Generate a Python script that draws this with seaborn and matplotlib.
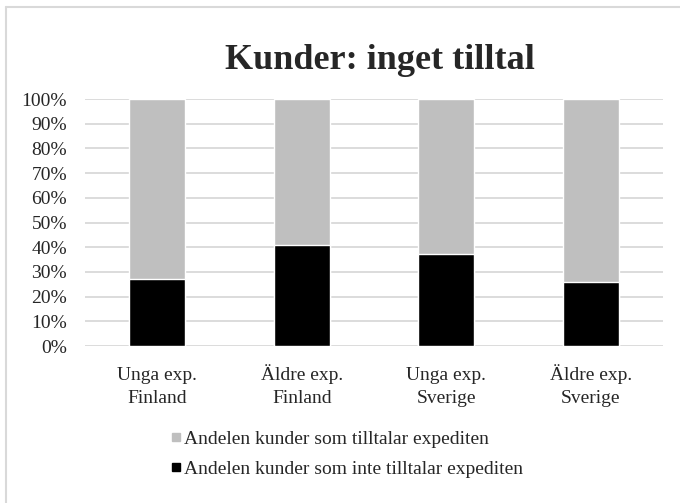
import pandas as pd
import matplotlib.pyplot as plt
import seaborn as sns
from matplotlib.lines import Line2D

# data
groups = ['Unga exp.\nFinland', 'Äldre exp.\nFinland', 'Unga exp.\nSverige', 'Äldre exp.\nSverige']
inte_tilltalar = [27.2, 40.9, 37.1, 26.1]
tilltalar = [72.8, 59.1, 62.9, 73.9]
labels = ['Andelen kunder som tilltalar expediten',
          'Andelen kunder som inte tilltalar expediten']

df = pd.DataFrame({'grupp': groups, 'inte': inte_tilltalar, 'tilltalar': tilltalar})
df['total'] = df['inte'] + df['tilltalar']

sns.set_style('white')
plt.rcParams['font.family'] = ['Liberation Serif', 'DejaVu Serif']

fig = plt.figure(figsize=(6.8, 5.03), dpi=100)
ax = fig.add_axes([0.125, 0.312, 0.85, 0.491])

# stacked: grey total behind, black share in front
sns.barplot(data=df, x='grupp', y='total', color='#bfbfbf', width=0.39, ax=ax, zorder=2)
sns.barplot(data=df, x='grupp', y='inte', color='black', width=0.39, ax=ax, zorder=3)

ax.set_xlim(-0.5, 3.5)
ax.set_ylim(0, 100)
ax.set_yticks(range(0, 101, 10))
ax.set_yticklabels([f'{v}%' for v in range(0, 101, 10)], fontsize=14)
ax.tick_params(axis='y', pad=13, length=0)
ax.tick_params(axis='x', labelsize=14, pad=41, length=0)
for t in ax.get_xticklabels():
    t.set_verticalalignment('baseline')
    t.set_linespacing(1.45)
ax.grid(axis='y', color='#d9d9d9', linewidth=1.3, zorder=0)
ax.set_axisbelow(True)
for s in ax.spines.values():
    s.set_visible(False)
ax.set_xlabel('')
ax.set_ylabel('')

fig.text(0.559, 0.879, 'Kunder: inget tilltal', ha='center', va='center',
         fontsize=26, fontweight='bold')

handles = [Line2D([], [], marker='s', linestyle='', color='#bfbfbf', markersize=6),
           Line2D([], [], marker='s', linestyle='', color='black', markersize=6)]
fig.legend(handles, labels, loc='upper left', bbox_to_anchor=(0.237, 0.164),
           bbox_transform=fig.transFigure, frameon=False, fontsize=14,
           handlelength=0.5, handletextpad=0.15, labelspacing=0.65, borderpad=0)

# chart frame: only top and left edges show in the reference
fig.add_artist(Line2D([0.009, 1.0], [0.986, 0.986], transform=fig.transFigure,
                      color='#d9d9d9', linewidth=1.5))
fig.add_artist(Line2D([0.009, 0.009], [0.0, 0.986], transform=fig.transFigure,
                      color='#d9d9d9', linewidth=1.5))

plt.savefig('out.png', dpi=100)
